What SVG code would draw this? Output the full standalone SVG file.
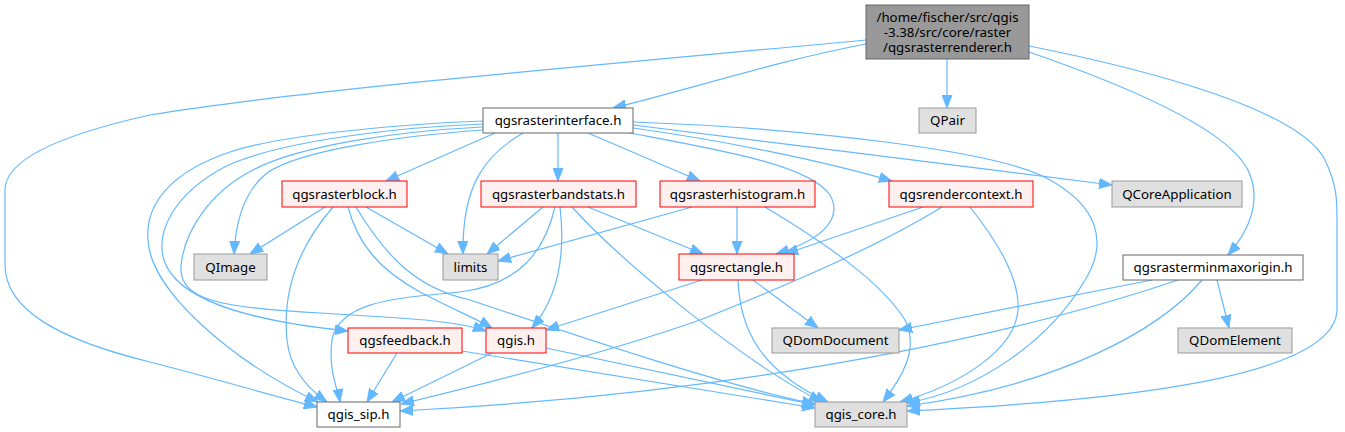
<svg xmlns="http://www.w3.org/2000/svg" width="1345" height="432" viewBox="0 0 1345 432">
<style>
  .e { fill: none; stroke: #63b8ff; stroke-width: 1.2; marker-end: url(#arr); }
  .t { font-family: "Noto Sans", "DejaVu Sans", sans-serif; font-size: 13.3px; fill: #000; text-anchor: middle; }
  .root rect { fill: #999999; stroke: #666666; stroke-width: 1; }
  .white rect { fill: #ffffff; stroke: #666666; stroke-width: 1; }
  .red rect { fill: #fff0f0; stroke: #ff0000; stroke-width: 1; }
  .gray rect { fill: #e0e0e0; stroke: #999999; stroke-width: 1; }
</style>
<defs>
  <marker id="arr" markerWidth="13" markerHeight="11" refX="13" refY="5.5" orient="auto" markerUnits="userSpaceOnUse">
    <path d="M0,0.5 L13,5.5 L0,10.5 z" fill="#63b8ff" stroke="#63b8ff" stroke-width="1"/>
  </marker>
</defs>
<rect width="1345" height="432" fill="#ffffff"/>

<g id="edges">
  <!-- root -->
  <path class="e" d="M866,44 C780,60 680,92 613,108"/>
  <path class="e" d="M947,59 L947,108"/>
  <path class="e" d="M1029,52 C1110,80 1225,125 1248,170 C1262,200 1250,230 1228,255"/>
  <path class="e" d="M1029,46 C1150,70 1300,110 1325,160 C1337,185 1337,200 1337,220 L1337,310 C1335,380 1100,402 907,411"/>
  <path class="e" d="M866,40 C600,65 300,90 150,115 C60,135 5,160 5,190 L5,265 C5,310 60,340 150,362 C220,380 270,395 317,407"/>
  <!-- qgsrasterinterface.h -->
  <path class="e" d="M483,121 C400,124 280,135 230,152 C170,172 145,205 148,240 C150,290 230,360 318,402"/>
  <path class="e" d="M483,124 C400,127 290,140 233,163 C185,185 160,220 162,250 C165,290 220,318 348,331"/>
  <path class="e" d="M483,127 C400,131 300,145 253,170 C210,192 185,230 181,265 C178,300 220,308 320,313 C400,318 455,320 486,331"/>
  <path class="e" d="M483,130 C400,136 300,150 267,173 C248,188 236,215 234,254"/>
  <path class="e" d="M495,133 L386,181"/>
  <path class="e" d="M523,133 C485,155 462,185 463,254"/>
  <path class="e" d="M558,133 L558,181"/>
  <path class="e" d="M588,133 L700,181"/>
  <path class="e" d="M633,128 C720,140 820,160 892,181"/>
  <path class="e" d="M633,125 L1112,185"/>
  <path class="e" d="M633,122 C800,128 1000,150 1050,180 C1095,205 1110,240 1085,280 C1050,340 980,390 907,403"/>
  <path class="e" d="M630,133 C720,150 810,165 830,195 C845,222 815,242 776,254"/>
  <!-- qgsrasterblock.h -->
  <path class="e" d="M325,207 L250,254"/>
  <path class="e" d="M366,207 L448,254"/>
  <path class="e" d="M333,207 C300,245 282,290 287,340 C290,370 310,390 327,402"/>
  <path class="e" d="M348,207 C358,245 380,270 420,292 C450,308 475,318 492,328"/>
  <path class="e" d="M356,207 C385,255 415,288 470,300 C560,330 720,385 815,404"/>
  <!-- qgsrasterbandstats.h -->
  <path class="e" d="M543,207 L487,254"/>
  <path class="e" d="M555,207 C545,250 520,285 460,292 C400,298 340,300 332,340 C328,370 338,390 340,402"/>
  <path class="e" d="M560,207 C565,250 560,295 532,328"/>
  <path class="e" d="M572,207 C620,260 740,360 822,402"/>
  <path class="e" d="M588,207 L703,254"/>
  <!-- qgsrasterhistogram.h -->
  <path class="e" d="M692,207 L498,261"/>
  <path class="e" d="M737,207 L737,254"/>
  <path class="e" d="M765,207 C820,240 880,280 905,320 C920,350 900,380 883,402"/>
  <!-- qgsrendercontext.h -->
  <path class="e" d="M923,207 L785,254"/>
  <path class="e" d="M942,207 C880,245 800,280 700,320 C600,355 480,385 401,404"/>
  <path class="e" d="M970,207 C1000,245 1020,280 1018,310 C1015,350 960,385 900,402"/>
  <!-- qgsrectangle.h -->
  <path class="e" d="M702,280 L546,330"/>
  <path class="e" d="M753,280 L818,328"/>
  <path class="e" d="M738,280 C740,330 760,370 828,402"/>
  <!-- qgsrasterminmaxorigin.h -->
  <path class="e" d="M1152,280 L899,330"/>
  <path class="e" d="M1178,280 C1060,320 800,390 400,411"/>
  <path class="e" d="M1202,280 C1160,330 1060,385 907,406"/>
  <path class="e" d="M1217,280 L1229,328"/>
  <!-- qgsfeedback.h -->
  <path class="e" d="M397,353 L367,402"/>
  <path class="e" d="M462,351 L815,408"/>
  <!-- qgis.h -->
  <path class="e" d="M492,353 L392,402"/>
  <path class="e" d="M546,348 L815,405"/>
</g>

<g id="node-root" class="root">
  <rect x="866" y="5" width="163" height="54"/>
  <text class="t" x="947.5" y="21.5"><tspan x="947.5" y="21.5">/home/fischer/src/qgis</tspan><tspan x="947.5" y="36.5">-3.38/src/core/raster</tspan><tspan x="947.5" y="51.5">/qgsrasterrenderer.h</tspan></text>
</g>
<g id="node-qgsrasterinterface" class="white">
  <rect x="483" y="108" width="150" height="25"/>
  <text class="t" x="558" y="125">qgsrasterinterface.h</text>
</g>
<g id="node-QPair" class="gray">
  <rect x="919" y="108" width="57" height="25"/>
  <text class="t" x="947.5" y="125">QPair</text>
</g>
<g id="node-qgsrasterblock" class="red">
  <rect x="282" y="181" width="125" height="26"/>
  <text class="t" x="344.5" y="198.5">qgsrasterblock.h</text>
</g>
<g id="node-qgsrasterbandstats" class="red">
  <rect x="481" y="181" width="155" height="26"/>
  <text class="t" x="558.5" y="198.5">qgsrasterbandstats.h</text>
</g>
<g id="node-qgsrasterhistogram" class="red">
  <rect x="660" y="181" width="155" height="26"/>
  <text class="t" x="737.5" y="198.5">qgsrasterhistogram.h</text>
</g>
<g id="node-qgsrendercontext" class="red">
  <rect x="889" y="181" width="144" height="26"/>
  <text class="t" x="961" y="198.5">qgsrendercontext.h</text>
</g>
<g id="node-QCoreApplication" class="gray">
  <rect x="1112" y="181" width="130" height="26"/>
  <text class="t" x="1177" y="198.5">QCoreApplication</text>
</g>
<g id="node-QImage" class="gray">
  <rect x="194" y="254" width="73" height="26"/>
  <text class="t" x="230.5" y="271.5">QImage</text>
</g>
<g id="node-limits" class="gray">
  <rect x="443" y="254" width="55" height="26"/>
  <text class="t" x="470.5" y="271.5">limits</text>
</g>
<g id="node-qgsrectangle" class="red">
  <rect x="679" y="254" width="115" height="26"/>
  <text class="t" x="736.5" y="271.5">qgsrectangle.h</text>
</g>
<g id="node-qgsrasterminmaxorigin" class="white">
  <rect x="1123" y="255" width="180" height="25"/>
  <text class="t" x="1213" y="272">qgsrasterminmaxorigin.h</text>
</g>
<g id="node-qgsfeedback" class="red">
  <rect x="348" y="328" width="114" height="25"/>
  <text class="t" x="405" y="345">qgsfeedback.h</text>
</g>
<g id="node-qgis" class="red">
  <rect x="486" y="328" width="60" height="25"/>
  <text class="t" x="516" y="345">qgis.h</text>
</g>
<g id="node-QDomDocument" class="gray">
  <rect x="772" y="328" width="127" height="25"/>
  <text class="t" x="835.5" y="345">QDomDocument</text>
</g>
<g id="node-QDomElement" class="gray">
  <rect x="1178" y="328" width="114" height="25"/>
  <text class="t" x="1235" y="345">QDomElement</text>
</g>
<g id="node-qgis_sip" class="white">
  <rect x="317" y="402" width="83" height="25"/>
  <text class="t" x="358.5" y="419">qgis_sip.h</text>
</g>
<g id="node-qgis_core" class="gray">
  <rect x="815" y="402" width="92" height="25"/>
  <text class="t" x="861" y="419">qgis_core.h</text>
</g>
</svg>
